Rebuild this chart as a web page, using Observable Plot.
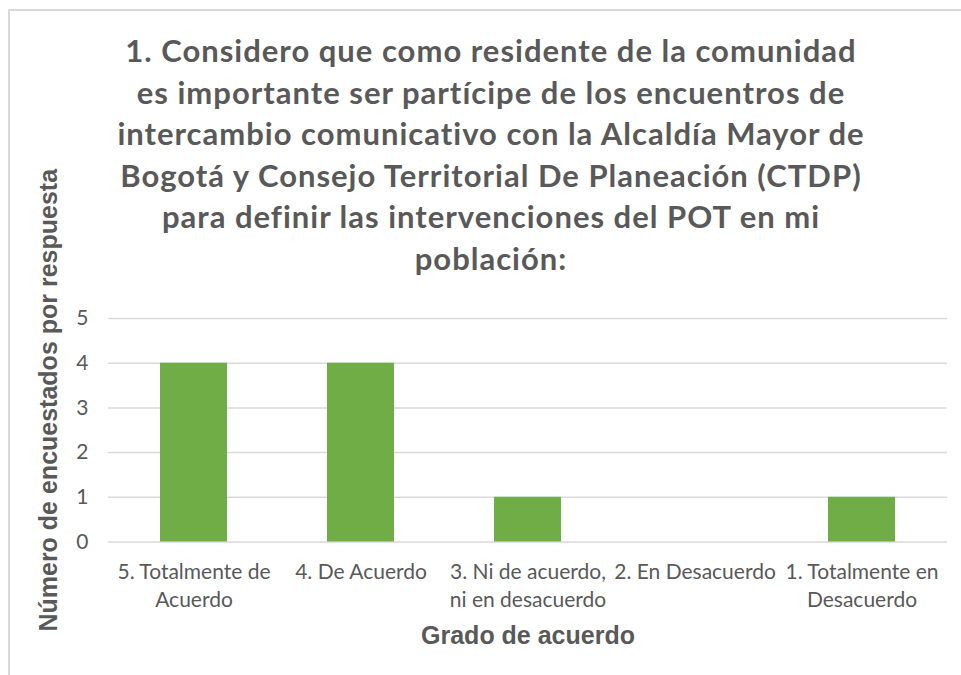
<!DOCTYPE html>
<html>
<head>
<meta charset="utf-8">
<script src="https://cdn.jsdelivr.net/npm/d3@7"></script>
<script src="https://cdn.jsdelivr.net/npm/@observablehq/plot@0.6"></script>
<style>
  html, body { margin: 0; padding: 0; background: #fff; overflow: hidden; }
  #wrap { position: relative; width: 961px; height: 675px; overflow: hidden; }
  #border { position: absolute; left: 8px; top: 9px; width: 1000px; height: 700px;
            border-top: 2px solid #d9d9d9; border-left: 2px solid #d9d9d9; box-sizing: border-box; }
  #title { position: absolute; left: 10px; top: 30px; width: 962px; text-align: center;
           font-family: Lato, sans-serif; font-weight: bold; font-size: 31px; letter-spacing: 1px;
           line-height: 41.6px; color: #595959; }
  #chart { position: absolute; left: 0; top: 0; }
</style>
</head>
<body>
<div id="wrap">
  <div id="border"></div>
  <div id="chart"></div>
  <div id="title"></div>
</div>
<script>
const titleLines = [
  "1. Considero que como residente de la comunidad",
  "es importante ser partícipe de los encuentros de",
  "intercambio comunicativo con la Alcaldía Mayor de",
  "Bogotá y Consejo Territorial De Planeación (CTDP)",
  "para definir las intervenciones del POT en mi",
  "población:"
];
const categories = [
  "5. Totalmente de Acuerdo",
  "4. De Acuerdo",
  "3. Ni de acuerdo, ni en desacuerdo",
  "2. En Desacuerdo",
  "1. Totalmente en Desacuerdo"
];
const tickLabels = [
  "5. Totalmente de\nAcuerdo",
  "4. De Acuerdo",
  "3. Ni de acuerdo,\nni en desacuerdo",
  "2. En Desacuerdo",
  "1. Totalmente en\nDesacuerdo"
];
const values = [4, 4, 1, 0, 1];
const yTicks = [0, 1, 2, 3, 4, 5];
const xLabel = "Grado de acuerdo";
const yLabel = "Número de encuestados por respuesta";

const titleEl = document.getElementById("title");
titleLines.forEach((t, i) => {
  if (i) titleEl.appendChild(document.createElement("br"));
  titleEl.appendChild(document.createTextNode(t));
});

const data = categories.map((c, i) => ({cat: c, value: values[i]}));
const labelOf = new Map(categories.map((c, i) => [c, tickLabels[i]]));

const chart = Plot.plot({
  width: 961,
  height: 675,
  marginTop: 318,
  marginBottom: 133.5,
  marginLeft: 108,
  marginRight: 14,
  style: {fontFamily: "Lato, sans-serif", fontSize: "21px", color: "#595959", background: "transparent", overflow: "visible"},
  x: {type: "band", domain: categories, paddingInner: 0.6, paddingOuter: 0.3},
  y: {domain: [0, 5]},
  marks: [
    Plot.gridY(yTicks, {stroke: "#d9d9d9", strokeOpacity: 1, strokeWidth: 1.5}),
    Plot.barY(data, {x: "cat", y: "value", fill: "#70ad47"}),
    Plot.axisY(yTicks, {tickSize: 0, tickPadding: 20, fontSize: 21, label: null, fill: "#595959"}),
    Plot.axisX({tickSize: 0, tickPadding: 17, fontSize: 21, lineHeight: 1.33, label: null, fill: "#595959",
                tickFormat: d => labelOf.get(d)}),
    Plot.text([xLabel], {text: d => d, frameAnchor: "bottom", lineAnchor: "middle", textAnchor: "middle",
                         dy: 93.5, fontSize: 25, fontWeight: "bold",
                         fontFamily: "Liberation Sans, Arial, sans-serif", fill: "#595959"}),
    Plot.text([yLabel], {text: d => d, frameAnchor: "left", textAnchor: "middle", lineAnchor: "middle",
                         dx: -60, dy: -30, rotate: -90, fontSize: 25,
                         fontWeight: "bold", fontFamily: "Liberation Sans, Arial, sans-serif", fill: "#595959"})
  ]
});
document.getElementById("chart").appendChild(chart);
</script>
</body>
</html>
